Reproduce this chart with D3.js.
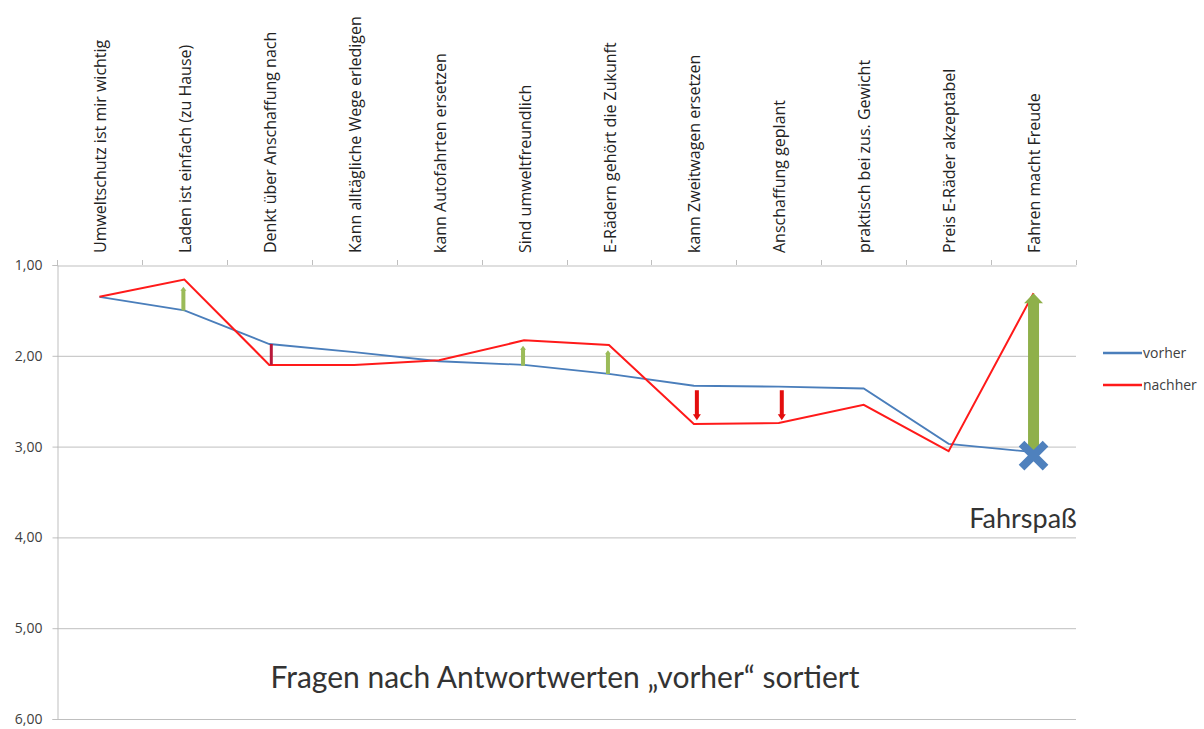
<!DOCTYPE html>
<html><head><meta charset="utf-8">
<script src="https://cdn.jsdelivr.net/npm/d3@7"></script>
<style>body{margin:0;background:#fff}svg{display:block}</style>
</head><body>
<svg id="c" width="1204" height="729"></svg>
<script>
const categories = ["Umweltschutz ist mir wichtig","Laden ist einfach (zu Hause)","Denkt über Anschaffung nach","Kann alltägliche Wege erledigen","kann Autofahrten ersetzen","Sind umweltfreundlich","E-Rädern gehört die Zukunft","kann Zweitwagen ersetzen","Anschaffung geplant","praktisch bei zus. Gewicht","Preis E-Räder akzeptabel","Fahren macht Freude"];
const vorher  = [1.35,1.50,1.87,1.96,2.06,2.10,2.20,2.33,2.34,2.36,2.97,3.06];
const nachher = [1.35,1.16,2.10,2.10,2.05,1.83,1.88,2.75,2.74,2.54,3.05,1.31];
const yTicks = [1,2,3,4,5,6];
const seriesNames = ["vorher","nachher"];
// arrows: category index, from value, to value, kind
const arrowCat  = [1,2,5,6,7,8,11];
const arrowFrom = [1.50,1.87,2.11,2.20,2.38,2.38,3.09];
const arrowTo   = [1.24,2.10,1.89,1.94,2.71,2.71,1.31];
const arrowKind = ["up","downDark","up","up","down","down","big"];
const markerCat = 11, markerValue = 3.10;
const annotation = "Fahrspaß";
const title = "Fragen nach Antwortwerten „vorher“ sortiert";

const svg = d3.select("#c");
const L = 57, R = 1076, T = 265, B = 719;
const x = d3.scaleBand().domain(categories).range([L, R]);
const y = d3.scaleLinear().domain([1, 6]).range([T, B]);
const font = "Lato, 'Open Sans', sans-serif";
const font2 = "'Open Sans', sans-serif";

// gridlines
svg.append("g").selectAll("line").data(yTicks.slice(1)).join("line")
  .attr("x1", L).attr("x2", R).attr("y1", d => y(d)+0.5).attr("y2", d => y(d)+0.5)
  .attr("stroke", "#bfbfbf").attr("stroke-width", 1);

// y axis
const ya = svg.append("g").attr("transform", `translate(${L+0.5},0)`)
  .call(d3.axisLeft(y).tickValues(yTicks).tickSize(5).tickPadding(10)
    .tickFormat(d => d3.format(".2f")(d).replace(".", ",")));
ya.select(".domain").attr("stroke", "#bfbfbf");
ya.selectAll(".tick line").attr("stroke", "#bfbfbf");
ya.selectAll(".tick text").attr("font-family", font2).attr("font-size", 14).attr("fill", "#404040");

// top x axis
const xa = svg.append("g").attr("transform", `translate(0,${T+0.5})`)
  .call(d3.axisTop(x).tickSize(0).tickFormat(""));
xa.select(".domain").attr("stroke", "#bfbfbf");
const bounds = categories.map(c => x(c)).concat([R]);
svg.append("g").selectAll("line").data(bounds).join("line")
  .attr("x1", d => Math.round(d)+0.5).attr("x2", d => Math.round(d)+0.5)
  .attr("y1", T-5).attr("y2", T).attr("stroke", "#bfbfbf");

// category labels
svg.append("g").selectAll("text").data(categories).join("text")
  .attr("transform", d => `translate(${x(d)+x.bandwidth()/2+1},${T-12}) rotate(-90)`)
  .attr("text-anchor", "start").attr("dy", "0.35em")
  .attr("font-family", font2).attr("font-size", 16).attr("fill", "#222")
  .text(d => d);

const cx = i => x(categories[i]) + x.bandwidth()/2;
const line = d3.line().x((d,i) => cx(i)).y(d => y(d));

svg.append("path").datum(vorher).attr("d", line)
  .attr("fill", "none").attr("stroke", "#4a7ebb").attr("stroke-width", 1.8);
svg.append("path").datum(nachher).attr("d", line)
  .attr("fill", "none").attr("stroke", "#ff1a1a").attr("stroke-width", 2);

// arrows
function arrowPath(xc, y0, y1, w, hw, hl) {
  const dir = y1 < y0 ? -1 : 1;
  const yb = y1 - dir*hl;
  return `M${xc-w/2},${y0}L${xc-w/2},${yb}L${xc-hw/2},${yb}L${xc},${y1}L${xc+hw/2},${yb}L${xc+w/2},${yb}L${xc+w/2},${y0}Z`;
}
const style = {
  up: {c:"#9bbb59", w:4, hw:6, hl:4, dx:-1},
  down: {c:"#e30d0d", w:4, hw:8, hl:6, dx:3},
  downDark: {c:"#b8183a", w:3, hw:3, hl:0, dx:2},
  big: {c:"#8fb04a", w:11, hw:19, hl:10, dx:0}
};
svg.append("g").selectAll("path").data(arrowCat).join("path")
  .attr("d", (c,i) => { const s = style[arrowKind[i]];
    return arrowPath(cx(c)+s.dx, y(arrowFrom[i]), y(arrowTo[i]), s.w, s.hw, s.hl); })
  .attr("fill", (c,i) => style[arrowKind[i]].c);

// X marker
const mx = cx(markerCat), my = y(markerValue), ms = 12;
svg.append("path")
  .attr("d", `M${mx-ms},${my-ms}L${mx+ms},${my+ms}M${mx-ms},${my+ms}L${mx+ms},${my-ms}`)
  .attr("stroke", "#4f81bd").attr("stroke-width", 8);

// annotation
svg.append("text").attr("x", 1023).attr("y", 528).attr("text-anchor", "middle")
  .attr("font-family", font).attr("font-size", 27).attr("fill", "#333").text(annotation);

// title
svg.append("text").attr("x", 565).attr("y", 688).attr("text-anchor", "middle")
  .attr("font-family", font).attr("font-size", 30).attr("fill", "#333").text(title);

// legend
const lg = svg.append("g").selectAll("g").data(seriesNames).join("g")
  .attr("transform", (d,i) => `translate(1103,${353 + i*32})`);
lg.append("line").attr("x1", 0).attr("x2", 39)
  .attr("stroke", (d,i) => i ? "#ff1a1a" : "#4a7ebb").attr("stroke-width", 2.5);
lg.append("text").attr("x", 40).attr("dy", "0.35em")
  .attr("font-family", font2).attr("font-size", 14).attr("fill", "#404040").text(d => d);
</script>
</body></html>
